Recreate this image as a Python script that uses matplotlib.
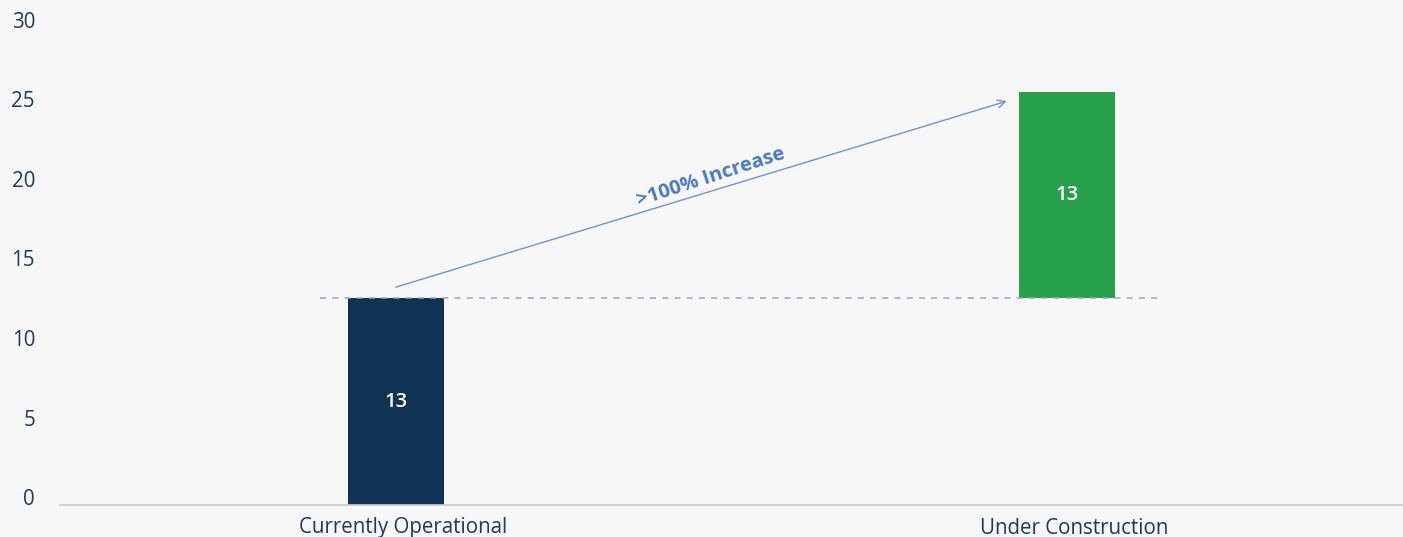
import matplotlib
matplotlib.use("Agg")
import matplotlib.pyplot as plt
import matplotlib.transforms as mtransforms

plt.rcParams['font.family'] = ['Open Sans', 'DejaVu Sans']

categories = ["Currently Operational", "Under Construction"]
base = [0, 13]
values = [13, 13]
colors = ["#0f3353", "#26a04a"]
yticks = [0, 5, 10, 15, 20, 25, 30]
arrow_start = (0.0, 13.7)
arrow_end = (0.91, 25.4)
note = ">100% Increase"

bg = "#f7f7f7"
fig = plt.figure(figsize=(14.03, 5.37), dpi=100, facecolor=bg)
ax = fig.add_axes([60 / 1403, 32 / 537, 1343 / 1403, 477 / 537], facecolor=bg)

x = list(range(len(categories)))
ax.bar(x, values, bottom=base, width=0.143, color=colors, zorder=2)

for xi, b, v in zip(x, base, values):
    ax.text(xi, b + v / 2, str(v), color="white", fontsize=14.5, fontweight="semibold",
            ha="center", va="center", zorder=4)

# dashed level line
ax.plot([-0.113, 1.137], [base[0] + values[0]] * 2, color="#a0a4bd", lw=1.1,
        ls=(0, (4, 4)), zorder=3)

# arrow with label
ax.annotate("", xy=arrow_end, xytext=arrow_start,
            arrowprops=dict(arrowstyle="->", color="#7192d6", lw=1.0,
                            mutation_scale=14, shrinkA=0, shrinkB=0), zorder=3)
ax.text(0.469, 20.6, note, color="#4a7bc4", fontsize=14.5, fontweight="bold",
        rotation=18, rotation_mode="anchor", ha="center", va="center")

ax.set_xlim(-0.5, 1.5)
ax.set_ylim(0, 30)
ax.set_yticks(yticks)
ax.set_xticks(x)
ax.set_xticklabels(categories)
ax.tick_params(axis="both", length=0, labelsize=14.8, labelcolor="#1d3a5c")
ax.tick_params(axis="y", pad=18)
ax.tick_params(axis="x", pad=9)

for s in ["left", "right", "top"]:
    ax.spines[s].set_visible(False)
ax.spines["bottom"].set_color("#cccccc")
ax.spines["bottom"].set_linewidth(1.2)

up = mtransforms.ScaledTranslation(0, 8 / 100, fig.dpi_scale_trans)
for lab in ax.get_yticklabels():
    lab.set_transform(lab.get_transform() + up)
right = mtransforms.ScaledTranslation(7 / 100, 0, fig.dpi_scale_trans)
for lab in ax.get_xticklabels():
    lab.set_transform(lab.get_transform() + right)

fig.savefig("out.png", dpi=100, facecolor=bg)
